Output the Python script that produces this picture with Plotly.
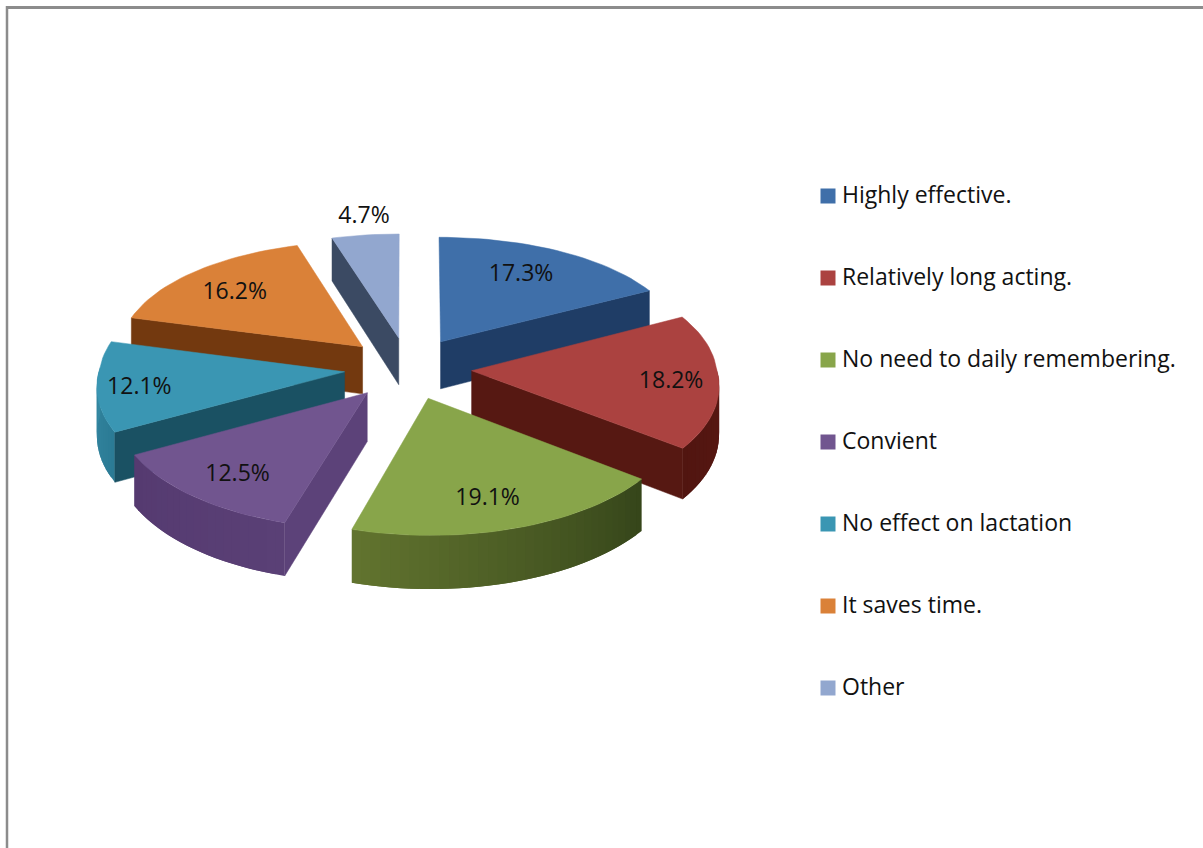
import math
import plotly.graph_objects as go

# Survey answers, in clockwise order from twelve o'clock
categories = ["Highly effective.", "Relatively long acting.", "No need to daily remembering.",
              "Convient", "No effect on lactation", "It saves time.", "Other"]
shares = [17.3, 18.2, 19.1, 12.5, 12.1, 16.2, 4.7]
percent_labels = ["17.3%", "18.2%", "19.1%", "12.5%", "12.1%", "16.2%", "4.7%"]

# Colours per slice: top face, cut wall, rim at start angle, rim at end angle
top_colors = ["#3f6fa9", "#ab4240", "#88a54a", "#71558f", "#3a96b3", "#da8138", "#92a7cf"]
wall_colors = ["#1f3d66", "#561812", "#4e6228", "#5c4279", "#1a5163", "#73390f", "#3b4a63"]
rim_start = ["#1f3d66", "#5e1b15", "#35451a", "#5a4076", "#2b7b95", "#73390f", "#3b4a63"]
rim_end = ["#1f3d66", "#511510", "#62742f", "#553a70", "#3a8fa9", "#73390f", "#3b4a63"]

# Label placement: radius along the slice's mid angle, then a small pixel nudge
label_radius = [0.72, 0.80, 0.74, 0.75, 0.83, 0.80, 1.20]
label_nudge = [(-6, 0), (2, 3), (-4, 7), (-2, 6), (0, 4), (7, 7), (5, 1)]

# Back-to-front painting order
paint_order = [6, 5, 0, 4, 1, 3, 2]

# Oblique projection of the exploded disc
CX, CY = 408, 368
RX, RY = 245, 120
EXPLODE = 0.26
DEPTH = 48

FONT = "Open Sans"
FONT_SIZE = 23


def project(u, v, drop=0.0):
    # The far half of the disc foreshortens differently from the near half
    kx = 0.05 if v > 0 else 0.10
    ky = 0.10 if v > 0 else 0.085
    sx = 1 / (1 + kx * v)
    sy = 1 / (1 + ky * v)
    return CX + RX * u * sx, CY - RY * v * sy + drop * sy


def blend(a, b, t):
    ca = [int(a[i:i + 2], 16) for i in (1, 3, 5)]
    cb = [int(b[i:i + 2], 16) for i in (1, 3, 5)]
    return "#" + "".join(f"{round(x + (y - x) * t):02x}" for x, y in zip(ca, cb))


def polygon(points, color, edge=True):
    xs = [p[0] for p in points] + [points[0][0]]
    ys = [p[1] for p in points] + [points[0][1]]
    line = dict(color=color, width=0.5) if edge else dict(width=0)
    return go.Scatter(x=xs, y=ys, mode="lines", fill="toself", fillcolor=color,
                      line=line, hoverinfo="skip", showlegend=False)


# Slice angle spans derived from the shares
total = sum(shares)
spans = []
acc = 0.0
for share in shares:
    start = acc / total * 2 * math.pi
    acc += share
    spans.append((start, acc / total * 2 * math.pi))

fig = go.Figure()

for i in paint_order:
    a0, a1 = spans[i]
    mid = (a0 + a1) / 2
    ox, oy = EXPLODE * math.sin(mid), EXPLODE * math.cos(mid)

    def rim(theta, radius=1.0):
        return ox + radius * math.sin(theta), oy + radius * math.cos(theta)

    # Outer rim wall, split into overlapping strips for its shading
    n = max(2, int((a1 - a0) / math.radians(2)))
    angles = [a0 + (a1 - a0) * k / n for k in range(n + 1)]
    for k in range(n):
        t0, t1 = angles[k], angles[min(k + 2, n)]
        if math.cos((angles[k] + angles[k + 1]) / 2) < 0.02:
            color = blend(rim_start[i], rim_end[i], (k + 0.5) / n)
            fig.add_trace(polygon([project(*rim(t0)), project(*rim(t1)),
                                   project(*rim(t1), DEPTH), project(*rim(t0), DEPTH)], color, edge=False))

    # Flat cut walls that face the viewer
    if math.cos(a0 - math.pi / 2) < 0:
        fig.add_trace(polygon([project(ox, oy), project(*rim(a0)),
                               project(*rim(a0), DEPTH), project(ox, oy, DEPTH)], wall_colors[i]))
    if math.cos(a1 + math.pi / 2) < 0:
        fig.add_trace(polygon([project(ox, oy), project(*rim(a1)),
                               project(*rim(a1), DEPTH), project(ox, oy, DEPTH)], wall_colors[i]))

    # Top face
    top = [project(ox, oy)] + [project(*rim(a)) for a in angles]
    fig.add_trace(polygon(top, top_colors[i]))

# Percentage labels
label_x, label_y = [], []
for i, (a0, a1) in enumerate(spans):
    mid = (a0 + a1) / 2
    r = label_radius[i]
    px, py = project((EXPLODE + r) * math.sin(mid), (EXPLODE + r) * math.cos(mid))
    label_x.append(px + label_nudge[i][0])
    label_y.append(py + label_nudge[i][1])
fig.add_trace(go.Scatter(x=label_x, y=label_y, mode="text",
                         text=percent_labels, textposition="middle center",
                         textfont=dict(family=FONT, size=FONT_SIZE, color="#111111"),
                         hoverinfo="skip", showlegend=False))

# Legend column
LEGEND_X, LEGEND_TOP, LEGEND_STEP = 828, 196, 82
legend_y = [LEGEND_TOP + LEGEND_STEP * k for k in range(len(categories))]
fig.add_trace(go.Scatter(x=[LEGEND_X] * len(categories), y=legend_y, mode="markers",
                         marker=dict(symbol="square", size=15, color=top_colors, line=dict(width=0)),
                         hoverinfo="skip", showlegend=False))
fig.add_trace(go.Scatter(x=[LEGEND_X + 14] * len(categories), y=[y + 1 for y in legend_y], mode="text",
                         text=categories, textposition="middle right",
                         textfont=dict(family=FONT, size=FONT_SIZE, color="#111111"),
                         hoverinfo="skip", showlegend=False))

fig.update_layout(
    width=1203, height=848, margin=dict(l=0, r=0, t=0, b=0),
    paper_bgcolor="white", plot_bgcolor="white", showlegend=False,
    xaxis=dict(range=[0, 1203], visible=False, fixedrange=True),
    yaxis=dict(range=[848, 0], visible=False, fixedrange=True),
    shapes=[
        dict(type="line", x0=7, x1=7, y0=6, y1=848, line=dict(color="#8c8c8c", width=2.5)),
        dict(type="line", x0=6, x1=1203, y0=7.5, y1=7.5, line=dict(color="#8c8c8c", width=3)),
    ],
)

fig.write_html("out.html", config={"displayModeBar": False})
